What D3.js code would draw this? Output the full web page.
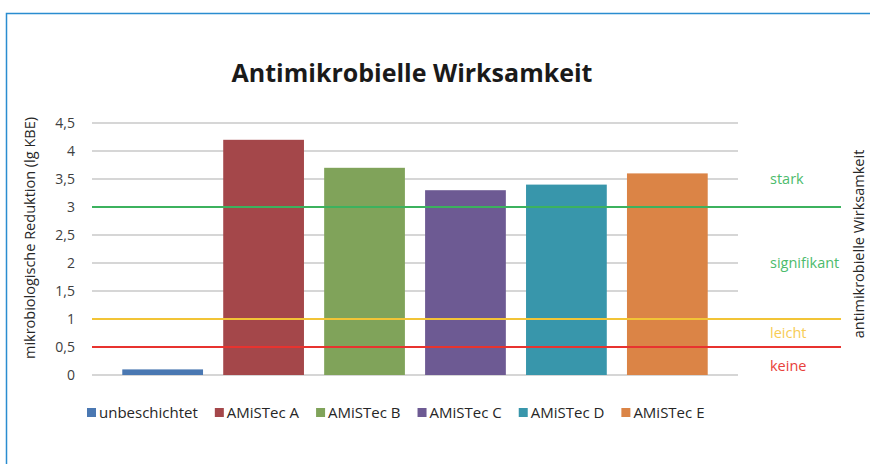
<!DOCTYPE html>
<html>
<head>
<meta charset="utf-8">
<script src="https://cdn.jsdelivr.net/npm/d3@7"></script>
<style>
  body { margin: 0; background: #fff; }
  svg { display: block; }
  text { font-family: "Open Sans", "Noto Sans", sans-serif; }
</style>
</head>
<body>
<div id="chart"></div>
<script>
  // chart data
  const categories = ["unbeschichtet", "AMiSTec A", "AMiSTec B", "AMiSTec C", "AMiSTec D", "AMiSTec E"];
  const values = [0.1, 4.2, 3.7, 3.3, 3.4, 3.6];
  const barColors = ["#4a78b2", "#a4474a", "#80a35a", "#6d5a93", "#3896ab", "#db8446"];
  const yTicks = [0, 0.5, 1, 1.5, 2, 2.5, 3, 3.5, 4, 4.5];

  // threshold lines and their labels
  const thresholds = [3, 1, 0.5];
  const thresholdColors = ["#3cb25e", "#f2c436", "#e8332f"];
  const zoneLabels = ["stark", "signifikant", "leicht", "keine"];
  const zoneValues = [3.5, 2.0, 0.75, 0.17];
  const zoneColors = ["#4cbb6c", "#4cbb6c", "#f7cc55", "#e8403a"];

  const width = 870, height = 464;
  const plot = { left: 92, right: 738, top: 123, bottom: 375 };

  const svg = d3.select("#chart").append("svg")
    .attr("width", width)
    .attr("height", height);

  // outer frame
  svg.append("path")
    .attr("d", `M6.5,${height} V13.5 H${width}`)
    .attr("fill", "none")
    .attr("stroke", "#2a8dd0")
    .attr("stroke-width", 1.5);

  const x = d3.scaleBand()
    .domain(categories)
    .range([plot.left, plot.right])
    .paddingInner(0.2)
    .paddingOuter(0.3);

  const y = d3.scaleLinear()
    .domain([0, 4.5])
    .range([plot.bottom, plot.top]);

  // title
  svg.append("text")
    .attr("x", 412)
    .attr("y", 82)
    .attr("text-anchor", "middle")
    .attr("font-size", 25)
    .attr("font-weight", "bold")
    .attr("fill", "#1a1a1a")
    .text("Antimikrobielle Wirksamkeit");

  // gridlines
  svg.append("g")
    .selectAll("line")
    .data(yTicks)
    .enter()
    .append("line")
    .attr("x1", plot.left)
    .attr("x2", plot.right)
    .attr("y1", d => y(d))
    .attr("y2", d => y(d))
    .attr("stroke", "#c8c8c8")
    .attr("stroke-width", 1.5);

  // y axis labels
  const yAxis = svg.append("g")
    .attr("transform", `translate(${plot.left - 17},0)`)
    .call(d3.axisLeft(y).tickValues(yTicks).tickSize(0).tickPadding(0)
      .tickFormat(d => String(d).replace(".", ",")));
  yAxis.select(".domain").remove();
  yAxis.selectAll("text")
    .attr("font-size", 14)
    .attr("fill", "#404040")
    .attr("font-family", "Open Sans, sans-serif");

  // bars
  svg.append("g")
    .selectAll("rect")
    .data(values)
    .enter()
    .append("rect")
    .attr("x", (d, i) => x(categories[i]))
    .attr("y", d => y(d))
    .attr("width", x.bandwidth())
    .attr("height", d => y(0) - y(d))
    .attr("fill", (d, i) => barColors[i]);

  // threshold lines over the bars
  svg.append("g")
    .selectAll("line")
    .data(thresholds)
    .enter()
    .append("line")
    .attr("x1", plot.left)
    .attr("x2", 841)
    .attr("y1", d => y(d))
    .attr("y2", d => y(d))
    .attr("stroke", (d, i) => thresholdColors[i])
    .attr("stroke-width", 2);

  // zone labels
  svg.append("g")
    .selectAll("text")
    .data(zoneLabels)
    .enter()
    .append("text")
    .attr("x", 770)
    .attr("y", (d, i) => y(zoneValues[i]))
    .attr("dy", "0.35em")
    .attr("font-size", 14.5)
    .attr("fill", (d, i) => zoneColors[i])
    .text(d => d);

  // axis titles
  svg.append("text")
    .attr("transform", `translate(35,${(plot.top + plot.bottom) / 2 - 11}) rotate(-90)`)
    .attr("text-anchor", "middle")
    .attr("font-size", 14.5)
    .attr("fill", "#262626")
    .text("mikrobiologische Reduktion (lg KBE)");

  svg.append("text")
    .attr("transform", `translate(864,244) rotate(-90)`)
    .attr("text-anchor", "middle")
    .attr("font-size", 14.5)
    .attr("fill", "#262626")
    .text("antimikrobielle Wirksamkeit");

  // legend
  const legend = svg.append("g").attr("transform", "translate(87,408)");
  let lx = 0;
  categories.forEach((c, i) => {
    const item = legend.append("g").attr("transform", `translate(${lx},0)`);
    item.append("rect")
      .attr("width", 9)
      .attr("height", 9)
      .attr("fill", barColors[i]);
    const t = item.append("text")
      .attr("x", 12)
      .attr("y", 9.5)
      .attr("font-size", 15)
      .attr("fill", "#262626")
      .text(c);
    lx += 12 + t.node().getComputedTextLength() + 17;
  });
</script>
</body>
</html>
